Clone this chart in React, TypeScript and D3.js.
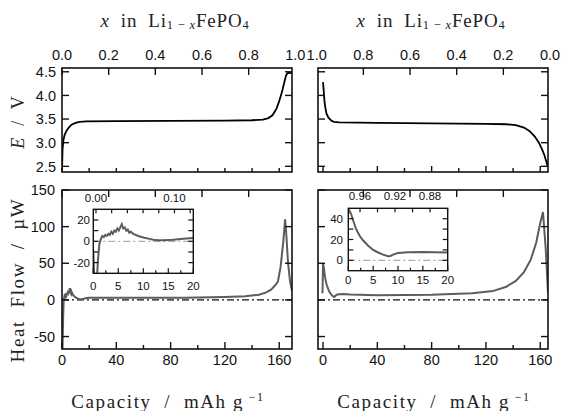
import * as d3 from 'd3'

type Pt = [number, number]

// axis ticks
const capMajor = [0, 40, 80, 120, 160]
const capMinor = [20, 60, 100, 140]
const fracTicks = [0, 0.2, 0.4, 0.6, 0.8, 1.0]
const eTicks = [2.5, 3.0, 3.5, 4.0, 4.5]
const heatTicks = [-50, 0, 50, 100, 150]
const insetCapTicks = [0, 5, 10, 15, 20]
const insetCapMinor = [2.5, 7.5, 12.5, 17.5]
const insetLeftHeatTicks = [-20, 0, 20]
const insetLeftHeatAll = [-20, -10, 0, 10, 20]
const insetRightHeatTicks = [0, 20, 40]
const insetRightHeatAll = [0, 10, 20, 30, 40]
const insetLeftFracLabels = [0.0, 0.1]
const insetLeftFracAll = [0.0, 0.02, 0.04, 0.06, 0.08, 0.1, 0.12]
const insetRightFracLabels = [0.96, 0.92, 0.88]
const insetRightFracAll = [0.96, 0.94, 0.92, 0.9, 0.88, 0.86]

// capacity (mAh/g) vs potential (V)
const chargeE: Pt[] = [
  [0, 2.4], [0.4, 2.85], [1, 3.05], [2, 3.17], [3.5, 3.26], [5, 3.32], [7, 3.38],
  [10, 3.42], [13, 3.44], [18, 3.45], [40, 3.455], [80, 3.46], [120, 3.465],
  [140, 3.475], [148, 3.49], [152, 3.52], [155, 3.58], [158, 3.72], [160, 3.88],
  [162, 4.07], [163.5, 4.25], [165, 4.42], [166, 4.47], [169.4, 4.48],
]
const dischargeE: Pt[] = [
  [0, 4.28], [0.5, 4.1], [1, 3.9], [1.5, 3.78], [2.5, 3.62], [4, 3.53], [6, 3.47],
  [8, 3.44], [12, 3.43], [40, 3.42], [80, 3.41], [120, 3.4], [135, 3.39],
  [142, 3.37], [148, 3.32], [152, 3.25], [156, 3.13], [159, 3.0], [161, 2.88],
  [163, 2.74], [164.8, 2.57], [165.5, 2.5],
]

// capacity (mAh/g) vs heat flow (µW)
const chargeHeat: Pt[] = [
  [0, -8], [0.15, -30], [0.35, -70], [0.6, -45], [0.9, -20], [1.2, -3], [1.5, 2],
  [1.8, 5], [2.1, 4], [2.4, 6], [2.7, 5], [3.0, 7], [3.3, 6], [3.6, 9], [3.9, 7],
  [4.2, 10], [4.5, 9], [4.8, 12], [5.1, 10], [5.4, 13], [5.7, 16], [6.0, 12],
  [6.3, 13], [6.6, 10], [6.9, 11], [7.2, 8], [7.5, 9], [8, 7], [9, 5], [10, 3.5],
  [11, 2.5], [12, 1.5], [13, 1], [14, 1], [15, 1.2], [16, 1.5], [18, 2.5], [20, 3],
  [30, 3], [60, 3], [90, 3], [120, 4], [135, 5], [145, 7], [150, 10], [154, 14],
  [157, 20], [159, 25], [161, 45], [163, 80], [164.3, 110], [165, 95], [166.5, 50],
  [168, 25], [169.4, 12],
]
const dischargeHeat: Pt[] = [
  [-0.4, 9], [0, 50], [0.3, 47], [0.6, 44], [1, 38], [1.5, 31], [2, 26], [2.5, 22],
  [3, 19], [4, 14], [5, 10], [6, 7.5], [7, 5.5], [8, 4], [8.5, 4.2], [9, 5.5],
  [10, 7], [12, 7.8], [15, 8], [20, 7.5], [40, 6.5], [80, 7], [110, 9], [125, 12],
  [135, 18], [142, 26], [148, 38], [153, 55], [157, 78], [160, 105], [162, 120],
  [163, 95], [164, 70], [165, 35], [165.7, 10],
]

const SANS = 'Liberation Sans, Arial, sans-serif'
const SERIF = 'Liberation Serif, Times New Roman, serif'
const HEAT = '#5c5c5c'

type Box = { x0: number; x1: number; y0: number; y1: number }
type Scale = d3.ScaleLinear<number, number>

function ticks(scale: Scale, values: number[], side: string, len: number, b: Box) {
  return values
    .filter(v => {
      const p = scale(v)
      return side === 'top' || side === 'bottom' ? p >= b.x0 - 0.5 && p <= b.x1 + 0.5 : p >= b.y0 - 0.5 && p <= b.y1 + 0.5
    })
    .map((v, i) => {
      const p = scale(v)
      if (side === 'bottom') return <line key={side + i} x1={p} x2={p} y1={b.y1} y2={b.y1 - len} />
      if (side === 'top') return <line key={side + i} x1={p} x2={p} y1={b.y0} y2={b.y0 + len} />
      if (side === 'left') return <line key={side + i} x1={b.x0} x2={b.x0 + len} y1={p} y2={p} />
      return <line key={side + i} x1={b.x1} x2={b.x1 - len} y1={p} y2={p} />
    })
}

function Title({ x, y }: { x: number; y: number }) {
  return (
    <text x={x} y={y} fontFamily={SERIF} fontSize={19} textAnchor="middle" style={{ whiteSpace: 'pre', letterSpacing: '0.8px' }} fill="#222">
      <tspan fontStyle="italic">x</tspan>
      <tspan>{'  in  Li'}</tspan>
      <tspan fontSize={12.5} dy={2}>{'1 − '}</tspan>
      <tspan fontSize={12.5} fontStyle="italic">x</tspan>
      <tspan dy={-2}>FePO</tspan>
      <tspan fontSize={12.5} dy={2}>4</tspan>
    </text>
  )
}

function CapTitle({ x, y }: { x: number; y: number }) {
  return (
    <text x={x} y={y} fontFamily={SERIF} fontSize={19} textAnchor="middle" style={{ whiteSpace: 'pre', letterSpacing: '1.6px' }} fill="#222">
      <tspan>{'Capacity  /  mAh g'}</tspan>
      <tspan fontSize={12} dy={-7}>{' −1'}</tspan>
    </text>
  )
}

export default function App() {
  const L = { x0: 62, x1: 292 }
  const R = { x0: 318, x1: 548 }
  const top = { y0: 68, y1: 172 }
  const bot = { y0: 190, y1: 349 }
  const TL: Box = { ...L, ...top }
  const TR: Box = { ...R, ...top }
  const BL: Box = { ...L, ...bot }
  const BR: Box = { ...R, ...bot }
  const IL: Box = { x0: 93.3, x1: 193.3, y0: 209.3, y1: 273.3 }
  const IR: Box = { x0: 348.3, x1: 447.7, y0: 208.3, y1: 270.7 }

  const capL = d3.scaleLinear().domain([0, 169.4]).range([L.x0, L.x1])
  const capR = d3.scaleLinear().domain([-3.7, 165.7]).range([R.x0, R.x1])
  const fracL = d3.scaleLinear().domain([0, 0.9857]).range([L.x0, L.x1])
  const fracR = d3.scaleLinear().domain([1.0, 0.0]).range([316.7, 550])
  const eY = d3.scaleLinear().domain([2.38, 4.58]).range([top.y1, top.y0])
  const hY = d3.scaleLinear().domain([-67, 150]).range([bot.y1, bot.y0])

  const iCapL = d3.scaleLinear().domain([0, 20]).range([IL.x0, IL.x1])
  const iHeatL = d3.scaleLinear().domain([-30, 30]).range([IL.y1, IL.y0])
  const iFracL = d3.scaleLinear().domain([-0.0034, 0.124]).range([IL.x0, IL.x1])
  const iCapR = d3.scaleLinear().domain([0, 20]).range([IR.x0, IR.x1])
  const iHeatR = d3.scaleLinear().domain([-10, 50]).range([IR.y1, IR.y0])
  const iFracR = d3.scaleLinear().domain([0.9734, 0.8598]).range([IR.x0, IR.x1])

  const line = (xs: Scale, ys: Scale) => d3.line<Pt>().x(d => xs(d[0])).y(d => ys(d[1]))

  const clip = (id: string, b: Box) => (
    <clipPath id={id}>
      <rect x={b.x0} y={b.y0} width={b.x1 - b.x0} height={b.y1 - b.y0} />
    </clipPath>
  )

  const frame = (b: Box, w = 1.6) => (
    <rect x={b.x0} y={b.y0} width={b.x1 - b.x0} height={b.y1 - b.y0} fill="none" stroke="#111" strokeWidth={w} />
  )

  const zeroLine = (xs: [number, number], y: number, color: string, w: number) => (
    <line x1={xs[0]} x2={xs[1]} y1={y} y2={y} stroke={color} strokeWidth={w} strokeDasharray="7 3 2 3" />
  )

  return (
    <svg width={561} height={411} style={{ position: 'fixed', left: 0, top: 0, background: '#fff' }}>
      <defs>
        {clip('cTL', TL)}
        {clip('cTR', TR)}
        {clip('cBL', BL)}
        {clip('cBR', BR)}
        {clip('cIL', IL)}
        {clip('cIR', IR)}
      </defs>

      <Title x={175} y={27} />
      <Title x={431} y={27} />

      {/* top fraction labels */}
      <g fontFamily={SANS} fontSize={14.5} textAnchor="middle" fill="#111">
        {fracTicks.map(v => (
          <text key={'fl' + v} x={fracL(v)} y={60}>{v.toFixed(1)}</text>
        ))}
        {fracTicks.map(v => (
          <text key={'fr' + v} x={fracR(v)} y={60}>{v.toFixed(1)}</text>
        ))}
      </g>

      {/* E panels */}
      <path d={line(capL, eY)(chargeE) || ''} fill="none" stroke="#000" strokeWidth={1.8} clipPath="url(#cTL)" />
      <path d={line(capR, eY)(dischargeE) || ''} fill="none" stroke="#000" strokeWidth={1.8} clipPath="url(#cTR)" />

      {/* heat panels */}
      {zeroLine([L.x0, L.x1], hY(0), '#111', 1.2)}
      {zeroLine([R.x0, R.x1], hY(0), '#111', 1.2)}
      <path d={line(capL, hY)(chargeHeat) || ''} fill="none" stroke={HEAT} strokeWidth={2} clipPath="url(#cBL)" />
      <path d={line(capR, hY)(dischargeHeat) || ''} fill="none" stroke={HEAT} strokeWidth={2} clipPath="url(#cBR)" />

      <g stroke="#111" strokeWidth={1.4}>
        {ticks(fracL, fracTicks, 'top', 7, TL)}
        {ticks(fracR, fracTicks, 'top', 7, TR)}
        {ticks(capL, [...capMajor, ...capMinor], 'bottom', 4, TL)}
        {ticks(capR, capMinor, 'bottom', 4, TR)}
        {ticks(capR, capMajor, 'bottom', 6, TR)}
        {ticks(eY, eTicks, 'left', 7, TL)}
        {ticks(eY, eTicks, 'right', 7, TL)}
        {ticks(eY, eTicks, 'left', 7, TR)}
        {ticks(eY, eTicks, 'right', 7, TR)}

        {ticks(fracL, fracTicks, 'top', 7, BL)}
        {ticks(fracR, fracTicks, 'top', 7, BR)}
        {ticks(capL, capMajor, 'bottom', 7, BL)}
        {ticks(capL, capMinor, 'bottom', 4, BL)}
        {ticks(capR, capMajor, 'bottom', 7, BR)}
        {ticks(capR, capMinor, 'bottom', 4, BR)}
        {ticks(hY, heatTicks, 'left', 7, BL)}
        {ticks(hY, heatTicks, 'right', 7, BL)}
        {ticks(hY, heatTicks, 'left', 7, BR)}
        {ticks(hY, heatTicks, 'right', 7, BR)}
      </g>
      {frame(TL)}
      {frame(TR)}
      {frame(BL)}
      {frame(BR)}

      {/* y labels */}
      <g fontFamily={SANS} fontSize={14.5} textAnchor="end" fill="#111">
        {eTicks.map(v => (
          <text key={'e' + v} x={56} y={eY(v)} dy="0.36em">{v.toFixed(1)}</text>
        ))}
        {heatTicks.map(v => (
          <text key={'h' + v} x={55} y={hY(v)} dy="0.36em">{v}</text>
        ))}
      </g>

      {/* bottom labels */}
      <g fontFamily={SANS} fontSize={14.5} textAnchor="middle" fill="#111">
        {capMajor.map(v => (
          <text key={'bl' + v} x={capL(v)} y={365}>{v}</text>
        ))}
        {capMajor.map(v => (
          <text key={'br' + v} x={capR(v)} y={365}>{v}</text>
        ))}
      </g>

      {/* insets */}
      <rect x={IL.x0} y={IL.y0} width={IL.x1 - IL.x0} height={IL.y1 - IL.y0} fill="#fff" />
      <rect x={IR.x0} y={IR.y0} width={IR.x1 - IR.x0} height={IR.y1 - IR.y0} fill="#fff" />
      {zeroLine([IL.x0, IL.x1], iHeatL(0), '#999', 1)}
      {zeroLine([IR.x0, IR.x1], iHeatR(0), '#999', 1)}
      <path d={line(iCapL, iHeatL)(chargeHeat) || ''} fill="none" stroke={HEAT} strokeWidth={2} clipPath="url(#cIL)" />
      <path d={line(iCapR, iHeatR)(dischargeHeat) || ''} fill="none" stroke={HEAT} strokeWidth={2} clipPath="url(#cIR)" />
      <g stroke="#111" strokeWidth={1.2}>
        {ticks(iCapL, insetCapTicks, 'bottom', 5, IL)}
        {ticks(iCapL, insetCapMinor, 'bottom', 3, IL)}
        {ticks(iFracL, insetLeftFracAll, 'top', 4, IL)}
        {ticks(iHeatL, insetLeftHeatAll, 'left', 5, IL)}
        {ticks(iHeatL, insetLeftHeatAll, 'right', 5, IL)}
        {ticks(iCapR, insetCapTicks, 'bottom', 5, IR)}
        {ticks(iCapR, insetCapMinor, 'bottom', 3, IR)}
        {ticks(iFracR, insetRightFracAll, 'top', 4, IR)}
        {ticks(iHeatR, insetRightHeatAll, 'left', 5, IR)}
        {ticks(iHeatR, insetRightHeatAll, 'right', 5, IR)}
      </g>
      {frame(IL, 1.4)}
      {frame(IR, 1.4)}
      <g fontFamily={SANS} fontSize={11.5} fill="#111">
        {insetCapTicks.map(v => (
          <text key={'ilb' + v} x={iCapL(v)} y={290} textAnchor="middle">{v}</text>
        ))}
        {insetCapTicks.map(v => (
          <text key={'irb' + v} x={iCapR(v)} y={284} textAnchor="middle">{v}</text>
        ))}
        {insetLeftHeatTicks.map(v => (
          <text key={'ily' + v} x={90} y={iHeatL(v)} dy="0.36em" textAnchor="end">{v}</text>
        ))}
        {insetRightHeatTicks.map(v => (
          <text key={'iry' + v} x={343} y={iHeatR(v)} dy="0.36em" textAnchor="end">{v}</text>
        ))}
        {insetLeftFracLabels.map(v => (
          <text key={'ilt' + v} x={iFracL(v)} y={201.5} textAnchor="middle">{v.toFixed(2)}</text>
        ))}
        {insetRightFracLabels.map(v => (
          <text key={'irt' + v} x={iFracR(v)} y={200} textAnchor="middle">{v.toFixed(2)}</text>
        ))}
      </g>

      {/* axis titles */}
      <text transform="translate(24,122) rotate(-90)" fontFamily={SERIF} fontSize={18} textAnchor="middle" style={{ whiteSpace: 'pre', letterSpacing: '1px' }} fill="#222">
        <tspan fontStyle="italic">E</tspan>
        <tspan>{'  /  V'}</tspan>
      </text>
      <text transform="translate(24,280) rotate(-90)" fontFamily={SERIF} fontSize={19} textAnchor="middle" style={{ whiteSpace: 'pre', letterSpacing: '1.6px' }} fill="#222">
        {'Heat  Flow  /  µW'}
      </text>
      <CapTitle x={168} y={408} />
      <CapTitle x={434} y={408} />
    </svg>
  )
}
